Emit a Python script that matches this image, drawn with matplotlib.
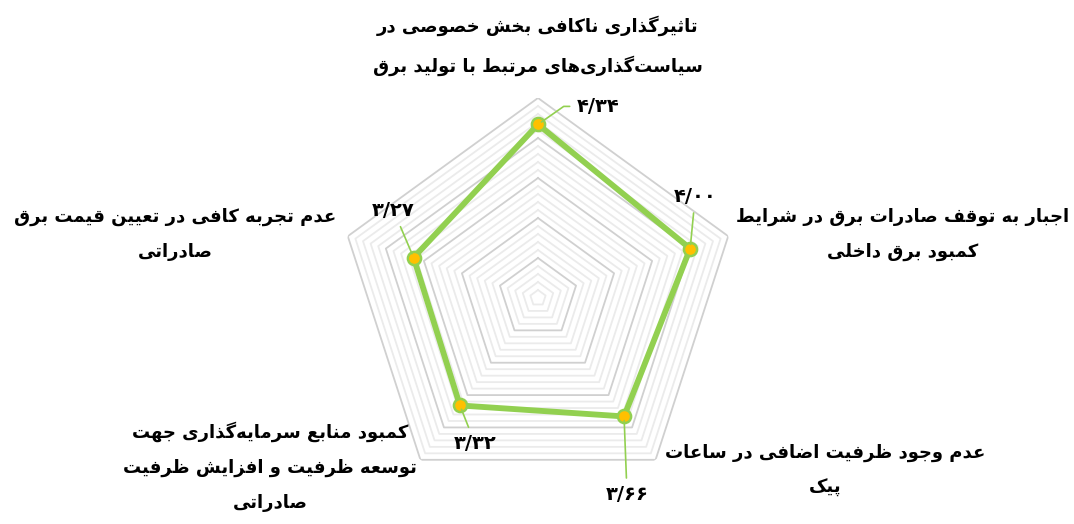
import numpy as np
import matplotlib.pyplot as plt

plt.rcParams.update(
    {
        "font.family": "DejaVu Sans",
        "font.weight": "bold",
        "figure.facecolor": "white",
    }
)

# data (logical Persian text, one entry per axis, clockwise from top)
categories = [
    "تاثیرگذاری ناکافی بخش خصوصی در\nسیاست‌گذاری‌های مرتبط با تولید برق",
    "اجبار به توقف صادرات برق در شرایط\nکمبود برق داخلی",
    "عدم وجود ظرفیت اضافی در ساعات\nپیک",
    "کمبود منابع سرمایه‌گذاری جهت\nتوسعه ظرفیت و افزایش ظرفیت\nصادراتی",
    "عدم تجربه کافی در تعیین قیمت برق\nصادراتی",
]
values = [4.34, 4.00, 3.66, 3.32, 3.27]
r_max = 5
r_step = 0.2

# Arabic presentation forms: isolated, final, initial, medial
FORMS = {
    "ا": ("\uFE8D", "\uFE8E", None, None),
    "آ": ("\uFE81", "\uFE82", None, None),
    "ب": ("\uFE8F", "\uFE90", "\uFE91", "\uFE92"),
    "پ": ("\uFB56", "\uFB57", "\uFB58", "\uFB59"),
    "ت": ("\uFE95", "\uFE96", "\uFE97", "\uFE98"),
    "ث": ("\uFE99", "\uFE9A", "\uFE9B", "\uFE9C"),
    "ج": ("\uFE9D", "\uFE9E", "\uFE9F", "\uFEA0"),
    "چ": ("\uFB7A", "\uFB7B", "\uFB7C", "\uFB7D"),
    "ح": ("\uFEA1", "\uFEA2", "\uFEA3", "\uFEA4"),
    "خ": ("\uFEA5", "\uFEA6", "\uFEA7", "\uFEA8"),
    "د": ("\uFEA9", "\uFEAA", None, None),
    "ذ": ("\uFEAB", "\uFEAC", None, None),
    "ر": ("\uFEAD", "\uFEAE", None, None),
    "ز": ("\uFEAF", "\uFEB0", None, None),
    "ژ": ("\uFB8A", "\uFB8B", None, None),
    "س": ("\uFEB1", "\uFEB2", "\uFEB3", "\uFEB4"),
    "ش": ("\uFEB5", "\uFEB6", "\uFEB7", "\uFEB8"),
    "ص": ("\uFEB9", "\uFEBA", "\uFEBB", "\uFEBC"),
    "ض": ("\uFEBD", "\uFEBE", "\uFEBF", "\uFEC0"),
    "ط": ("\uFEC1", "\uFEC2", "\uFEC3", "\uFEC4"),
    "ظ": ("\uFEC5", "\uFEC6", "\uFEC7", "\uFEC8"),
    "ع": ("\uFEC9", "\uFECA", "\uFECB", "\uFECC"),
    "غ": ("\uFECD", "\uFECE", "\uFECF", "\uFED0"),
    "ف": ("\uFED1", "\uFED2", "\uFED3", "\uFED4"),
    "ق": ("\uFED5", "\uFED6", "\uFED7", "\uFED8"),
    "ک": ("\uFB8E", "\uFB8F", "\uFB90", "\uFB91"),
    "گ": ("\uFB92", "\uFB93", "\uFB94", "\uFB95"),
    "ل": ("\uFEDD", "\uFEDE", "\uFEDF", "\uFEE0"),
    "م": ("\uFEE1", "\uFEE2", "\uFEE3", "\uFEE4"),
    "ن": ("\uFEE5", "\uFEE6", "\uFEE7", "\uFEE8"),
    "و": ("\uFEED", "\uFEEE", None, None),
    "ه": ("\uFEE9", "\uFEEA", "\uFEEB", "\uFEEC"),
    "ی": ("\uFBFC", "\uFBFD", "\uFBFE", "\uFBFF"),
}


def joins_next(c):
    return c in FORMS and FORMS[c][2] is not None


def shape_line(line):
    out = []
    for i, c in enumerate(line):
        if c not in FORMS:
            out.append(c)
            continue
        prev = line[i - 1] if i > 0 else ""
        nxt = line[i + 1] if i + 1 < len(line) else ""
        p = joins_next(prev)
        n = joins_next(c) and nxt in FORMS
        iso, fin, ini, med = FORMS[c]
        out.append(med if p and n else fin if p else ini if n else iso)
    return "".join(out).replace("\u200c", "")[::-1]


def rtl(text):
    return "\n".join(shape_line(l) for l in text.split("\n"))


def fa_num(v):
    return f"{v:.2f}".translate(str.maketrans("0123456789.", "۰۱۲۳۴۵۶۷۸۹/"))


W, H = 1074, 524
fig = plt.figure(figsize=(W / 100, H / 100), dpi=100)
cx, cy, R = 538, 298, 200
ax = fig.add_axes(
    [(cx - R) / W, 1 - (cy + R) / H, 2 * R / W, 2 * R / H], projection="polar"
)
ax.set_theta_offset(np.pi / 2)
ax.set_theta_direction(-1)
ax.set_ylim(0, r_max)
ax.axis("off")

n = len(categories)
angles = np.linspace(0, 2 * np.pi, n, endpoint=False)
closed = np.append(angles, angles[0])

# pentagon grid
for r in np.arange(r_step, r_max + 1e-6, r_step):
    major = abs(r - round(r)) < 1e-6
    ax.plot(
        closed,
        [r] * (n + 1),
        color="#d0d0d0" if major else "#ebebeb",
        lw=1.3,
        zorder=1,
    )

ax.plot(closed, np.append(values, values[0]), color="#92d050", lw=4.2, zorder=3)
ax.plot(
    angles,
    values,
    "o",
    ms=9.5,
    mfc="#ffc000",
    mec="#92d050",
    mew=1.8,
    zorder=4,
)

# data labels with leader lines (offsets in pixels)
label_offsets = [(60, 18), (5, 52), (3, -78), (15, -38), (-20, 47)]
connections = ["angle,angleA=0,angleB=35,rad=0", "arc3", "arc3", "arc3", "arc3"]
for a, v, off, cs in zip(angles, values, label_offsets, connections):
    ax.annotate(
        fa_num(v),
        xy=(a, v),
        xytext=off,
        textcoords="offset pixels",
        ha="center",
        va="center",
        fontsize=14,
        fontweight="bold",
        arrowprops=dict(
            arrowstyle="-", color="#92d050", lw=1.2, shrinkA=3, shrinkB=3,
            connectionstyle=cs,
        ),
        zorder=5,
    )

# category labels (pixel centres)
label_pos = [(538, 46), (903, 234), (825, 470), (270, 467), (175, 234)]
for text, (px, py) in zip(categories, label_pos):
    fig.text(
        px / W,
        1 - py / H,
        rtl(text),
        ha="center",
        va="center",
        fontsize=13,
        fontweight="bold",
        linespacing=2.2,
    )

plt.savefig("out.png", dpi=100)
